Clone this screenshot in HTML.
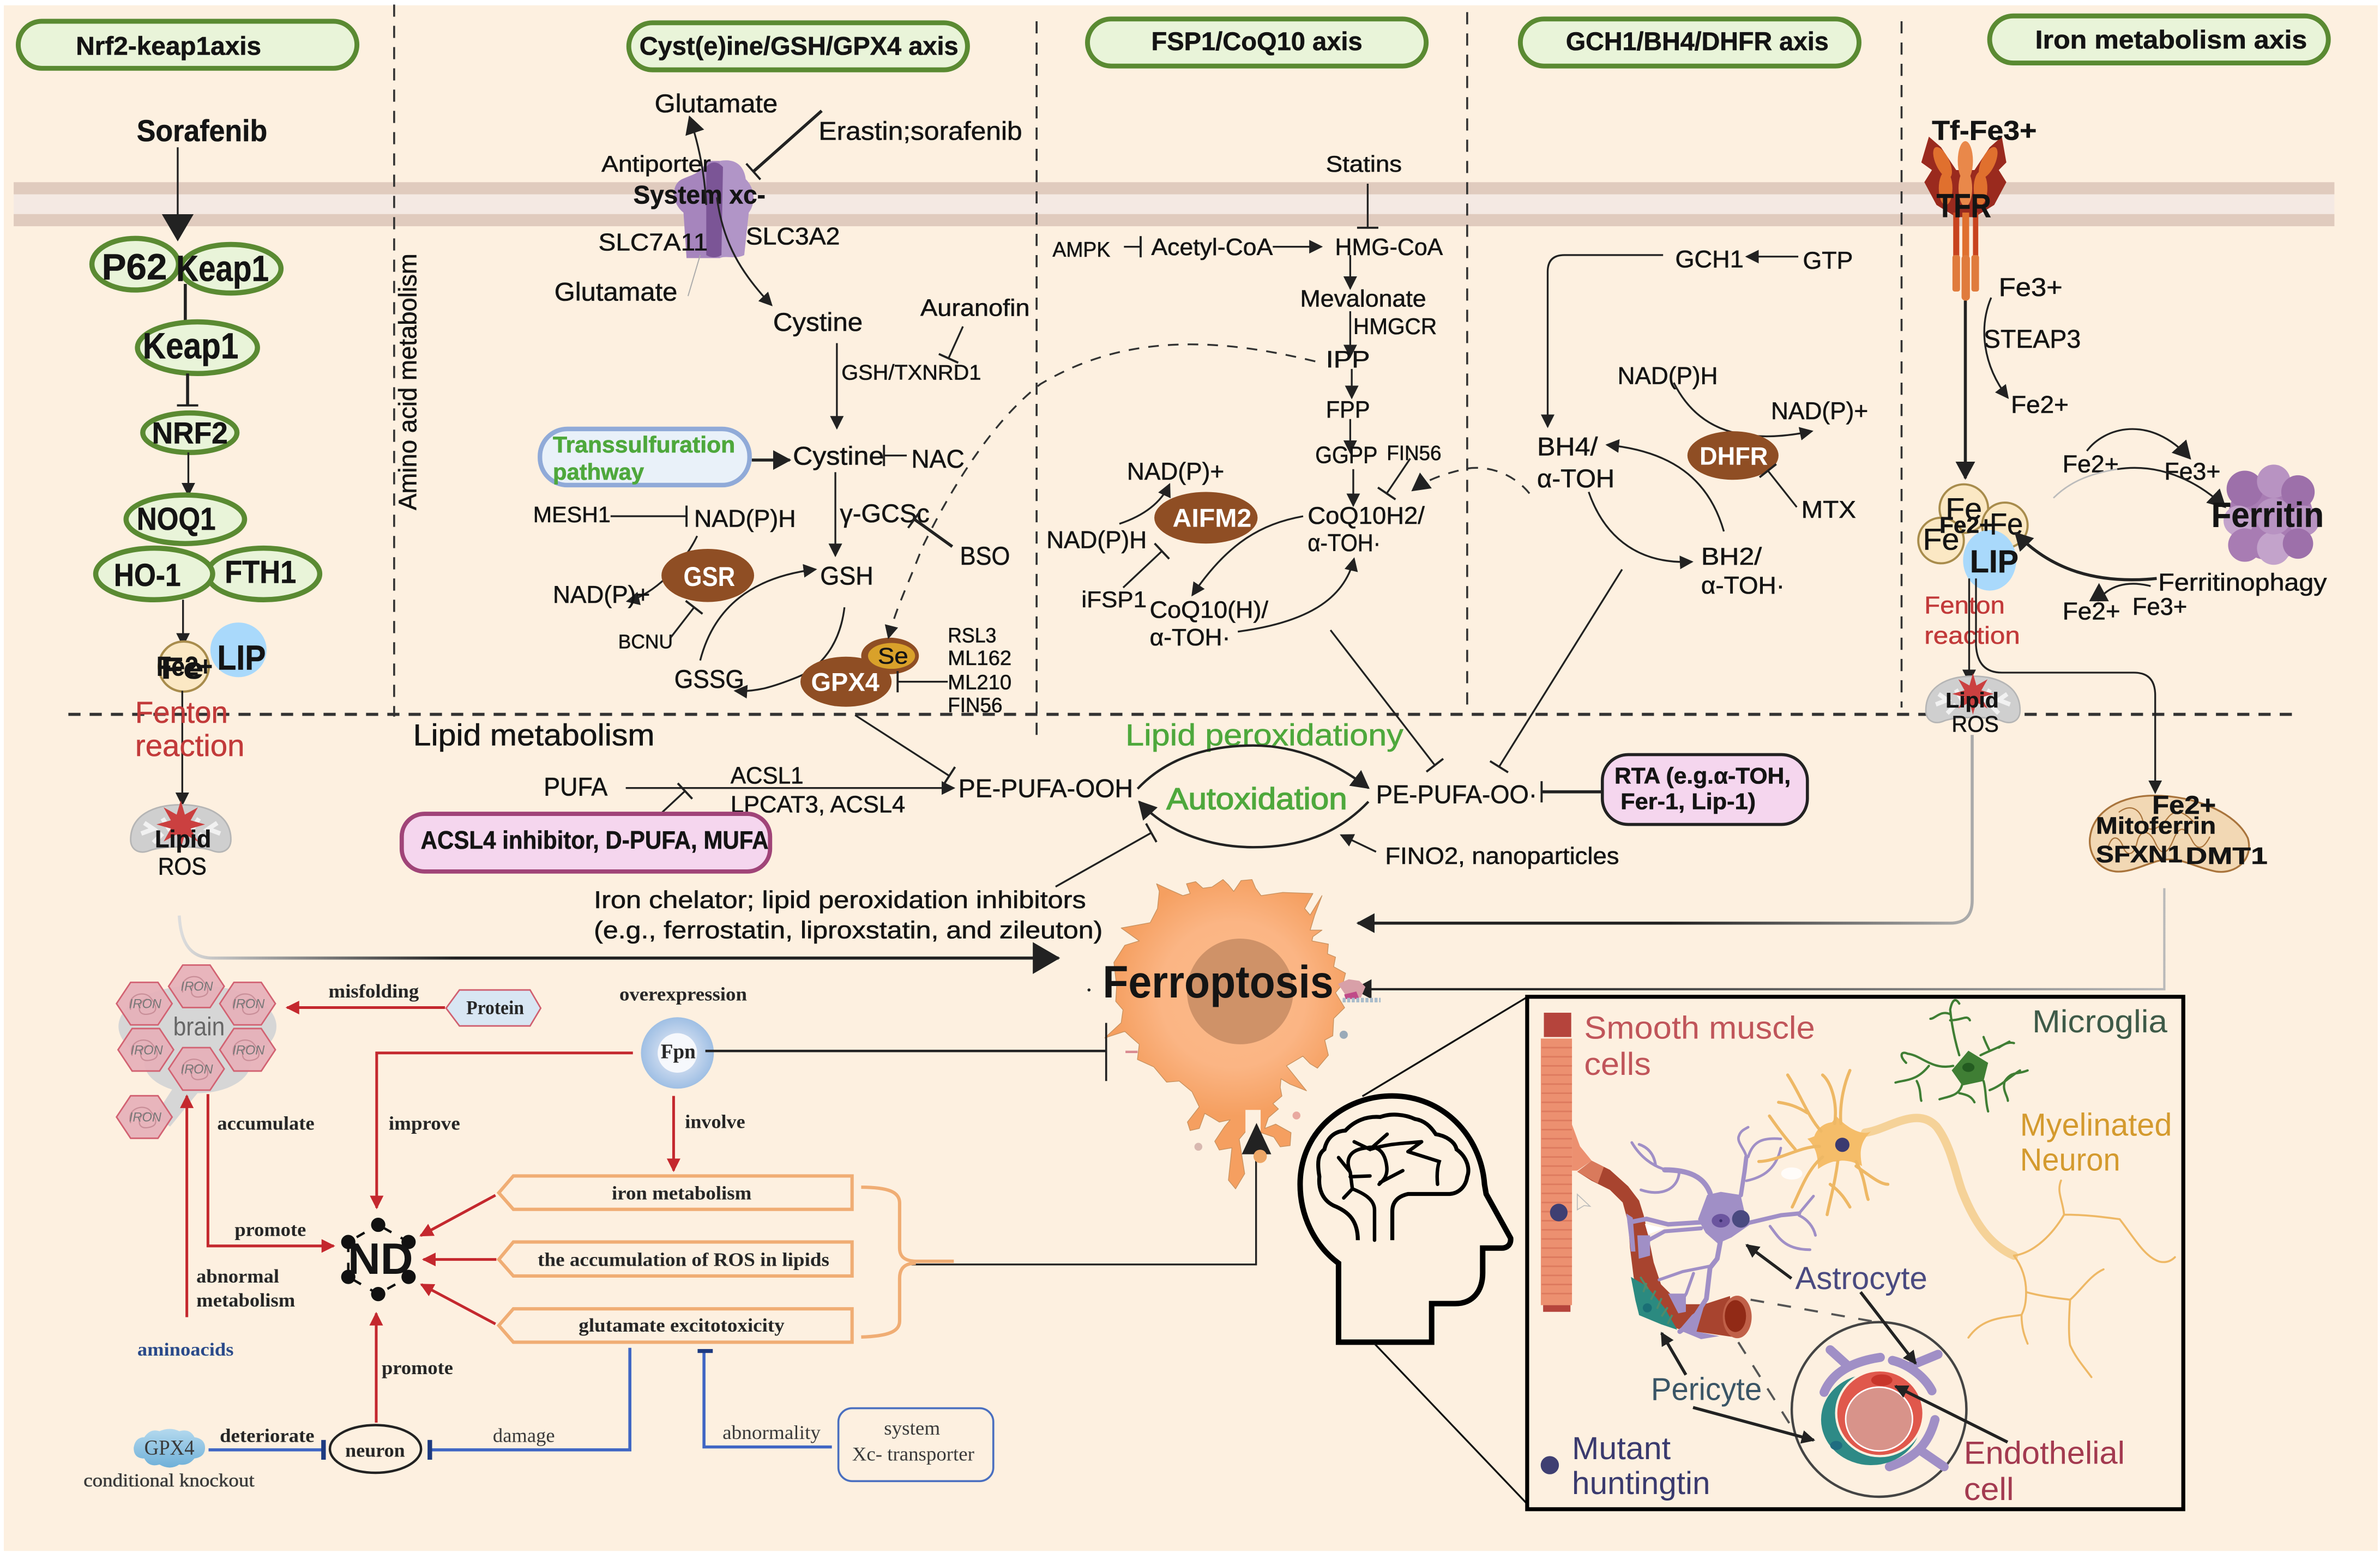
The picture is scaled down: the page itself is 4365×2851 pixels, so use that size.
<!DOCTYPE html>
<html lang="en">
<head>
<meta charset="utf-8">
<title>Ferroptosis pathways diagram</title>
<style>
html,body{margin:0;padding:0;background:#fff}
svg{display:block}
text{font-family:"Liberation Sans",sans-serif;fill:#141414;white-space:pre}
.t{stroke:#141414;stroke-width:.22}
.b{font-weight:700}
.w{font-weight:700;fill:#fff}
.g{fill:#4ea83c;stroke:#4ea83c;stroke-width:.25}
.r{fill:#c23a3a;stroke:#c23a3a;stroke-width:.2}
.sb{font-family:"Liberation Serif",serif;font-weight:700;fill:#262626}
.sr{font-family:"Liberation Serif",serif;fill:#3a3a3a}
.ir{font-style:italic;fill:#777;font-size:8.5px}
.l{fill:none;stroke:#222;stroke-width:1.2}
.l2{fill:none;stroke:#222;stroke-width:2}
.rd{fill:none;stroke:#c4282e;stroke-width:1.8}
.bl{fill:none;stroke:#3f66c4;stroke-width:2}
.or{fill:none;stroke:#f0ad74;stroke-width:2.2}
.hd{fill:#e9f4d9;stroke:#5a8a32;stroke-width:3.2}
.el{fill:#e9f4d9;stroke:#5a8a32;stroke-width:3.4}
.br{fill:#8f4e24}
.ast{fill:none;stroke:#a08fc6;stroke-linecap:round;stroke-linejoin:round}
.neu{fill:none;stroke:#eeb865;stroke-width:1.3;stroke-linecap:round}
.mic{fill:none;stroke:#3f7e34;stroke-width:1.5;stroke-linecap:round}
.ins{font-size:21px}
</style>
</head>
<body>
<svg xmlns="http://www.w3.org/2000/svg" width="4365" height="2851" viewBox="0 0 1567 1023.5">
<defs>
<marker id="a" markerUnits="userSpaceOnUse" markerWidth="10" markerHeight="10" refX="8" refY="4.5" orient="auto"><path d="M0,0L9,4.5L0,9Z" fill="#222"/></marker>
<marker id="am" markerUnits="userSpaceOnUse" markerWidth="14" markerHeight="14" refX="11" refY="6.5" orient="auto"><path d="M0,0L12,6.5L0,13Z" fill="#222"/></marker>
<marker id="al" markerUnits="userSpaceOnUse" markerWidth="20" markerHeight="22" refX="17" refY="10.5" orient="auto"><path d="M0,0L18,10.5L0,21Z" fill="#222"/></marker>
<marker id="ar" markerUnits="userSpaceOnUse" markerWidth="10" markerHeight="10" refX="8" refY="4.5" orient="auto"><path d="M0,0L9,4.5L0,9Z" fill="#c4282e"/></marker>
<marker id="t" markerUnits="userSpaceOnUse" markerWidth="3" markerHeight="16" refX="1.5" refY="8" orient="auto"><rect x=".8" y="1" width="1.4" height="14" fill="#222"/></marker>
<marker id="tn" markerUnits="userSpaceOnUse" markerWidth="4" markerHeight="14" refX="2" refY="7" orient="auto"><rect x=".5" y=".5" width="3" height="13" fill="#1d3a80"/></marker>
<linearGradient id="f1" gradientUnits="userSpaceOnUse" x1="118" y1="0" x2="300" y2="0"><stop offset="0" stop-color="#ddd"/><stop offset="1" stop-color="#222"/></linearGradient>
<linearGradient id="f2" gradientUnits="userSpaceOnUse" x1="1290" y1="0" x2="1100" y2="0"><stop offset="0" stop-color="#aaa"/><stop offset="1" stop-color="#222"/></linearGradient>
<linearGradient id="f3" gradientUnits="userSpaceOnUse" x1="1430" y1="0" x2="1000" y2="0"><stop offset="0" stop-color="#bbb"/><stop offset="1" stop-color="#222"/></linearGradient>
<linearGradient id="gp" x1="0" y1="0" x2="0" y2="1"><stop offset="0" stop-color="#b4d9ee"/><stop offset="1" stop-color="#6fb0d8"/></linearGradient>
<radialGradient id="fp"><stop offset=".5" stop-color="#c8d8ee"/><stop offset="1" stop-color="#9fbfe4"/></radialGradient>
<radialGradient id="ce" gradientUnits="userSpaceOnUse" cx="812" cy="655" r="80"><stop offset="0" stop-color="#fab888"/><stop offset=".6" stop-color="#fbb584"/><stop offset="1" stop-color="#f59f60"/></radialGradient>
<polygon id="bang" points="16,0 6.5,2.7 11.3,11.3 2.7,6.5 0,16 -2.7,6.5 -11.3,11.3 -6.5,2.7 -16,0 -6.5,-2.7 -11.3,-11.3 -2.7,-6.5 0,-16 2.7,-6.5 11.3,-11.3 6.5,-2.7" fill="#cb4040"/>
<g id="hx"><polygon points="-18.3,0 -9,-14 9,-14 18.3,0 9,14 -9,14" fill="#e6b0b8" fill-opacity=".92" stroke="#d26272" stroke-width="1"/><path d="M-9,4C-12,-6 0,-9 4,-4S10,6 2,7S-4,-2 2,-3" fill="none" stroke="#c88e98" stroke-width=".8"/></g>
<g id="mito"><path d="M-33,6C-33,-10 -18,-17 0,-17S33,-10 33,6C33,13 27,16 20,13C12,10 -12,10 -20,13C-27,16 -33,13 -33,6Z" fill="#cfcfcf" stroke="#b5b5b5"/><path d="M-26,2l8,-3l-6,-4M-12,-8l5,8M26,2l-8,-3l6,-4M12,-8l-5,8M-18,8l6,-6M18,8l-6,-6" fill="none" stroke="#f1f1f1" stroke-width="3"/></g>
</defs>

<rect width="1567" height="1023.5" fill="#fff"/>
<rect x="2.5" y="3.5" width="1563" height="1018" fill="#fdf0e0"/>

<!-- membrane -->
<rect x="9" y="120" width="1528" height="8" fill="#e0cbbe"/>
<rect x="9" y="128" width="1528" height="13" fill="#f4e9e3"/>
<rect x="9" y="141" width="1528" height="8" fill="#e0cbbe"/>

<!-- dashed separators -->
<g fill="none" stroke="#333" stroke-width="1.3" stroke-dasharray="8 6">
<path d="M259.5,3V472"/><path d="M682.5,14V490"/><path d="M966,8V470"/><path d="M1252,14V466"/>
</g>
<path d="M45,470.5H1510" fill="none" stroke="#333" stroke-width="2" stroke-dasharray="8 6"/>

<!-- headers -->
<rect class="hd" x="12" y="14" width="223" height="31" rx="15.5"/>
<rect class="hd" x="414" y="15" width="223" height="31" rx="15.5"/>
<rect class="hd" x="716" y="12.5" width="223" height="31" rx="15.5"/>
<rect class="hd" x="1001" y="12.5" width="223" height="31" rx="15.5"/>
<rect class="hd" x="1310" y="10.5" width="223" height="31" rx="15.5"/>
<text class="t b" x="50" y="36" font-size="17" textLength="122" lengthAdjust="spacingAndGlyphs">Nrf2-keap1axis</text>
<text class="t b" x="421" y="36" font-size="17" textLength="210" lengthAdjust="spacingAndGlyphs">Cyst(e)ine/GSH/GPX4 axis</text>
<text class="t b" x="758" y="33" font-size="17" textLength="139" lengthAdjust="spacingAndGlyphs">FSP1/CoQ10 axis</text>
<text class="t b" x="1031" y="33" font-size="17" textLength="173" lengthAdjust="spacingAndGlyphs">GCH1/BH4/DHFR axis</text>
<text class="t b" x="1340" y="32" font-size="17" textLength="179" lengthAdjust="spacingAndGlyphs">Iron metabolism axis</text>

<!-- Nrf2 column -->
<text class="t b" x="90" y="93" font-size="20" textLength="86" lengthAdjust="spacingAndGlyphs">Sorafenib</text>
<path class="l" d="M117,97V158" marker-end="url(#al)"/>
<ellipse class="el" cx="152" cy="177" rx="33" ry="16"/>
<ellipse class="el" cx="89" cy="174" rx="28.5" ry="17"/>
<text class="t b" x="67" y="184" font-size="24" textLength="43" lengthAdjust="spacingAndGlyphs">P62</text>
<text class="t b" x="116" y="185" font-size="24" textLength="61" lengthAdjust="spacingAndGlyphs">Keap1</text>
<path class="l2" d="M122,187V212"/>
<ellipse class="el" cx="130" cy="229" rx="39.5" ry="17"/>
<text class="t b" x="94" y="236" font-size="24" textLength="63" lengthAdjust="spacingAndGlyphs">Keap1</text>
<path class="l2" d="M123.5,246V267" marker-end="url(#t)"/>
<ellipse class="el" cx="125" cy="285" rx="31" ry="13"/>
<text class="t b" x="100" y="292" font-size="20" textLength="50" lengthAdjust="spacingAndGlyphs">NRF2</text>
<path class="l" d="M124,298V326" marker-end="url(#a)"/>
<ellipse class="el" cx="122" cy="342" rx="39" ry="16"/>
<text class="t b" x="90" y="349" font-size="21" textLength="52" lengthAdjust="spacingAndGlyphs">NOQ1</text>
<ellipse class="el" cx="173.5" cy="378" rx="37" ry="17"/>
<ellipse class="el" cx="101.5" cy="378" rx="38.5" ry="17"/>
<text class="t b" x="75" y="386" font-size="21" textLength="44" lengthAdjust="spacingAndGlyphs">HO-1</text>
<text class="t b" x="148" y="384" font-size="21" textLength="47" lengthAdjust="spacingAndGlyphs">FTH1</text>
<path class="l" d="M120.5,395V425" marker-end="url(#a)"/>
<ellipse cx="157" cy="428" rx="18.5" ry="18" fill="#a9d9fb"/>
<circle cx="121" cy="439" r="16.5" fill="#fbe8c4" stroke="#a88c4c" stroke-width="1.5"/>
<text class="t b" x="106" y="447" font-size="20" textLength="28" lengthAdjust="spacingAndGlyphs">Fe</text>
<text class="t b" x="103" y="445" font-size="18" textLength="37" lengthAdjust="spacingAndGlyphs">Fe2+</text>
<text class="t b" x="143" y="441" font-size="23" textLength="32" lengthAdjust="spacingAndGlyphs">LIP</text>
<path class="l" d="M120,455V530" marker-end="url(#a)"/>
<text class="r" x="89" y="476" font-size="20" textLength="61" lengthAdjust="spacingAndGlyphs">Fenton</text>
<text class="r" x="89" y="498" font-size="20" textLength="72" lengthAdjust="spacingAndGlyphs">reaction</text>
<use href="#mito" transform="translate(119,547)"/>
<use href="#bang" transform="translate(119,543)"/>
<text class="t b" x="102" y="558" font-size="16" textLength="37" lengthAdjust="spacingAndGlyphs">Lipid</text>
<text class="t" x="104" y="576" font-size="16" textLength="32" lengthAdjust="spacingAndGlyphs">ROS</text>
<path d="M118,603C119,622 126,631 140,631H697" fill="none" stroke="url(#f1)" stroke-width="2" marker-end="url(#al)"/>

<!-- Cystine axis -->
<path d="M452,170L450,140C443,135 441,122 449,118C456,115 462,114 465,106L474,106V170Z" fill="#a685bd"/>
<path d="M474,106C485,104 490,110 491,118C498,125 497,135 493,140L490,168C484,171 478,168 474,170Z" fill="#b195c7"/>
<path d="M465,110Q470,104 476,110L475,168Q470,171 465,168Z" fill="#7b5596"/>
<circle cx="495" cy="116" r="3" fill="#fdf0e0"/>
<text class="t" x="431" y="74" font-size="17" textLength="81" lengthAdjust="spacingAndGlyphs">Glutamate</text>
<text class="t" x="539" y="92" font-size="17" textLength="134" lengthAdjust="spacingAndGlyphs">Erastin;sorafenib</text>
<text class="t" x="396" y="113" font-size="15" textLength="72" lengthAdjust="spacingAndGlyphs">Antiporter</text>
<text class="t b" x="417" y="134" font-size="17" textLength="87" lengthAdjust="spacingAndGlyphs">System xc-</text>
<text class="t" x="394" y="165" font-size="16" textLength="72" lengthAdjust="spacingAndGlyphs">SLC7A11</text>
<text class="t" x="491" y="161" font-size="16" textLength="62" lengthAdjust="spacingAndGlyphs">SLC3A2</text>
<text class="t" x="365" y="198" font-size="17" textLength="81" lengthAdjust="spacingAndGlyphs">Glutamate</text>
<text class="t" x="509" y="218" font-size="17" textLength="59" lengthAdjust="spacingAndGlyphs">Cystine</text>
<path class="l" d="M465,135C464,115 460,95 454,77" marker-end="url(#am)"/>
<path d="M453,195L461,168" fill="none" stroke="#aaa" stroke-width=".7"/>
<path class="l" d="M472,130C476,160 488,180 508,201" marker-end="url(#a)"/>
<path class="l2" d="M541,73L496,113" marker-end="url(#t)"/>
<text class="t" x="606" y="208" font-size="15.5" textLength="72" lengthAdjust="spacingAndGlyphs">Auranofin</text>
<path class="l" d="M634,215L624.5,236" marker-end="url(#t)"/>
<text class="t" x="554" y="250" font-size="14" textLength="92" lengthAdjust="spacingAndGlyphs">GSH/TXNRD1</text>
<path class="l" d="M551,226V282" marker-end="url(#a)"/>
<rect x="355.5" y="282.5" width="138" height="37" rx="18" fill="#e9f1f9" stroke="#90aad8" stroke-width="3"/>
<text class="g b" x="364" y="298" font-size="15" textLength="120" lengthAdjust="spacingAndGlyphs">Transsulfuration</text>
<text class="g b" x="364" y="316" font-size="15" textLength="60" lengthAdjust="spacingAndGlyphs">pathway</text>
<path class="l2" d="M495,303H520" marker-end="url(#am)"/>
<text class="t" x="522" y="306" font-size="17" textLength="60" lengthAdjust="spacingAndGlyphs">Cystine</text>
<path class="l" d="M597,300H582" marker-end="url(#t)"/>
<text class="t" x="600" y="308" font-size="17" textLength="35" lengthAdjust="spacingAndGlyphs">NAC</text>
<path class="l" d="M550,311V366" marker-end="url(#a)"/>
<text class="t" x="553" y="344" font-size="17" textLength="59" lengthAdjust="spacingAndGlyphs">γ-GCSc</text>
<path class="l2" d="M627,360L602,342" marker-end="url(#t)"/>
<text class="t" x="632" y="372" font-size="17" textLength="33" lengthAdjust="spacingAndGlyphs">BSO</text>
<text class="t" x="540" y="385" font-size="17" textLength="35" lengthAdjust="spacingAndGlyphs">GSH</text>
<text class="t" x="351" y="344" font-size="14.5" textLength="51" lengthAdjust="spacingAndGlyphs">MESH1</text>
<path class="l" d="M402,340H452" marker-end="url(#t)"/>
<text class="t" x="457" y="347" font-size="16" textLength="67" lengthAdjust="spacingAndGlyphs">NAD(P)H</text>
<path class="l" d="M459,353C450,372 430,392 413,396" marker-end="url(#a)"/>
<ellipse class="br" cx="466" cy="379" rx="30.5" ry="17.5"/>
<text class="w" x="450" y="386" font-size="18" textLength="34" lengthAdjust="spacingAndGlyphs">GSR</text>
<text class="t" x="364" y="397" font-size="16" textLength="64" lengthAdjust="spacingAndGlyphs">NAD(P)+</text>
<text class="t" x="407" y="427" font-size="13" textLength="36" lengthAdjust="spacingAndGlyphs">BCNU</text>
<path class="l" d="M441.5,420L457,400" marker-end="url(#t)"/>
<path class="l" d="M461,435C470,400 495,380 537,375" marker-end="url(#a)"/>
<path class="l" d="M556,400C553,425 540,440 525,446C510,452 498,456 484,455" marker-end="url(#a)"/>
<text class="t" x="444" y="453" font-size="17" textLength="46" lengthAdjust="spacingAndGlyphs">GSSG</text>
<ellipse class="br" cx="557" cy="449" rx="30" ry="16.5"/>
<ellipse class="br" cx="586" cy="432" rx="19" ry="12"/>
<ellipse cx="587" cy="432" rx="15.5" ry="8.5" fill="#d9a12a"/>
<text class="t" x="578" y="437" font-size="15" textLength="20" lengthAdjust="spacingAndGlyphs">Se</text>
<text class="w" x="534" y="455" font-size="17" textLength="45" lengthAdjust="spacingAndGlyphs">GPX4</text>
<path d="M866,238C800,222 740,220 685,253C650,280 622,330 607,361C598,385 590,400 585,420" fill="none" stroke="#333" stroke-width="1.2" stroke-dasharray="7 6" marker-end="url(#a)"/>
<text class="t" x="624" y="423" font-size="13.5" textLength="32" lengthAdjust="spacingAndGlyphs">RSL3</text>
<text class="t" x="624" y="438" font-size="13.5" textLength="42" lengthAdjust="spacingAndGlyphs">ML162</text>
<text class="t" x="624" y="454" font-size="13.5" textLength="42" lengthAdjust="spacingAndGlyphs">ML210</text>
<text class="t" x="624" y="469" font-size="13.5" textLength="36" lengthAdjust="spacingAndGlyphs">FIN56</text>
<path class="l" d="M624,449H591" marker-end="url(#t)"/>
<path class="l" d="M563,471L625,511" marker-end="url(#t)"/>

<!-- FSP1 axis -->
<text class="t" x="873" y="113" font-size="15" textLength="50" lengthAdjust="spacingAndGlyphs">Statins</text>
<path class="l" d="M900.5,121V150" marker-end="url(#t)"/>
<text class="t" x="693" y="169" font-size="14" textLength="38" lengthAdjust="spacingAndGlyphs">AMPK</text>
<path class="l" d="M740,162.5H751" marker-end="url(#t)"/>
<text class="t" x="758" y="168" font-size="15.5" textLength="80" lengthAdjust="spacingAndGlyphs">Acetyl-CoA</text>
<path class="l" d="M838,162.5H870" marker-end="url(#a)"/>
<text class="t" x="879" y="168" font-size="15.5" textLength="71" lengthAdjust="spacingAndGlyphs">HMG-CoA</text>
<path class="l" d="M889,168V190" marker-end="url(#a)"/>
<text class="t" x="856" y="202" font-size="15.5" textLength="83" lengthAdjust="spacingAndGlyphs">Mevalonate</text>
<text class="t" x="891" y="220" font-size="15" textLength="55" lengthAdjust="spacingAndGlyphs">HMGCR</text>
<path class="l" d="M889,205V235" marker-end="url(#a)"/>
<text class="t" x="873" y="242" font-size="15.5" textLength="29" lengthAdjust="spacingAndGlyphs">IPP</text>
<path class="l" d="M890,243V262" marker-end="url(#a)"/>
<text class="t" x="873" y="275" font-size="15.5" textLength="29" lengthAdjust="spacingAndGlyphs">FPP</text>
<path class="l" d="M889,276V298" marker-end="url(#a)"/>
<text class="t" x="866" y="305" font-size="15.5" textLength="41" lengthAdjust="spacingAndGlyphs">GGPP</text>
<text class="t" x="913" y="303" font-size="13.5" textLength="36" lengthAdjust="spacingAndGlyphs">FIN56</text>
<path class="l" d="M891,309V333" marker-end="url(#a)"/>
<path class="l" d="M928.5,302L913,325" marker-end="url(#t)"/>
<path d="M1007,325C995,310 975,305 960,310C948,313 938,317 930,323" fill="none" stroke="#333" stroke-width="1.2" stroke-dasharray="7 6" marker-end="url(#am)"/>
<text class="t" x="861" y="345" font-size="16" textLength="77" lengthAdjust="spacingAndGlyphs">CoQ10H2/</text>
<text class="t" x="861" y="363" font-size="16" textLength="48" lengthAdjust="spacingAndGlyphs">α-TOH·</text>
<text class="t" x="742" y="316" font-size="16" textLength="64" lengthAdjust="spacingAndGlyphs">NAD(P)+</text>
<text class="t" x="689" y="361" font-size="16" textLength="66" lengthAdjust="spacingAndGlyphs">NAD(P)H</text>
<ellipse class="br" cx="794" cy="341" rx="34" ry="17"/>
<text class="w" x="772" y="347" font-size="17" textLength="52" lengthAdjust="spacingAndGlyphs">AIFM2</text>
<path class="l" d="M737,345C752,340 764,332 770,319" marker-end="url(#a)"/>
<text class="t" x="712" y="400" font-size="15" textLength="43" lengthAdjust="spacingAndGlyphs">iFSP1</text>
<path class="l" d="M739.5,387L765,363" marker-end="url(#t)"/>
<text class="t" x="757" y="407" font-size="15.5" textLength="78" lengthAdjust="spacingAndGlyphs">CoQ10(H)/</text>
<text class="t" x="757" y="425" font-size="15.5" textLength="53" lengthAdjust="spacingAndGlyphs">α-TOH·</text>
<path class="l" d="M858,340C830,345 808,358 785,392" marker-end="url(#a)"/>
<path class="l" d="M815,416C860,410 885,395 891.5,368" marker-end="url(#a)"/>

<!-- GCH1 axis -->
<text class="t" x="1103" y="176" font-size="16" textLength="45" lengthAdjust="spacingAndGlyphs">GCH1</text>
<text class="t" x="1187" y="177" font-size="16" textLength="33" lengthAdjust="spacingAndGlyphs">GTP</text>
<path class="l" d="M1184,169H1150" marker-end="url(#a)"/>
<path class="l" d="M1095,168H1030Q1019,168 1019,179V281" marker-end="url(#a)"/>
<text class="t" x="1012" y="300" font-size="17" textLength="40" lengthAdjust="spacingAndGlyphs">BH4/</text>
<text class="t" x="1012" y="321" font-size="17" textLength="51" lengthAdjust="spacingAndGlyphs">α-TOH</text>
<text class="t" x="1065" y="253" font-size="16" textLength="66" lengthAdjust="spacingAndGlyphs">NAD(P)H</text>
<text class="t" x="1166" y="276" font-size="16" textLength="64" lengthAdjust="spacingAndGlyphs">NAD(P)+</text>
<path class="l" d="M1102,252C1115,278 1140,295 1193,284" marker-end="url(#a)"/>
<ellipse class="br" cx="1141" cy="300" rx="30" ry="16"/>
<text class="w" x="1119" y="306" font-size="16.5" textLength="45" lengthAdjust="spacingAndGlyphs">DHFR</text>
<text class="t" x="1186" y="341" font-size="16" textLength="36" lengthAdjust="spacingAndGlyphs">MTX</text>
<path class="l" d="M1183,334L1164,310" marker-end="url(#t)"/>
<path class="l" d="M1135,350C1125,315 1100,297 1058,293" marker-end="url(#a)"/>
<path class="l" d="M1046,324C1055,350 1075,372 1114,370" marker-end="url(#a)"/>
<text class="t" x="1120" y="372" font-size="16" textLength="40" lengthAdjust="spacingAndGlyphs">BH2/</text>
<text class="t" x="1120" y="391" font-size="16" textLength="55" lengthAdjust="spacingAndGlyphs">α-TOH·</text>

<!-- Iron axis -->
<path d="M1270,90L1278,97L1288,112H1300L1310,97L1318,90L1321,107L1316,112L1321,120L1313,135L1300,143H1288L1275,135L1267,120L1272,112L1265,107Z" fill="#9a2a1e"/>
<g fill="#e0702e"><ellipse cx="1279" cy="107" rx="4.5" ry="11" transform="rotate(-25 1279 107)"/><ellipse cx="1294" cy="106" rx="5" ry="13" fill="#e9884a"/><ellipse cx="1309" cy="107" rx="4.5" ry="11" transform="rotate(25 1309 107)"/><ellipse cx="1281" cy="124" rx="4.5" ry="11"/><ellipse cx="1294" cy="124" rx="4.5" ry="12" fill="#e9884a"/><ellipse cx="1304" cy="124" rx="4.5" ry="11"/></g>
<g fill="#c8431e"><rect x="1286" y="140" width="4" height="30"/><rect x="1292" y="140" width="4.5" height="30" fill="#e0702e"/><rect x="1299" y="140" width="3.5" height="30"/></g>
<g fill="#e07b3c"><rect x="1285.5" y="168" width="5" height="24" rx="1.5"/><rect x="1291.5" y="168" width="5.5" height="30" rx="2.5"/><rect x="1298" y="168" width="5" height="24" rx="1.5"/></g>
<text class="t b" x="1272" y="92" font-size="18" textLength="69" lengthAdjust="spacingAndGlyphs">Tf-Fe3+</text>
<text class="t b" x="1275" y="143" font-size="22" textLength="36" lengthAdjust="spacingAndGlyphs">TFR</text>
<path class="l2" d="M1294,198V315" marker-end="url(#am)"/>
<text class="t" x="1316" y="195" font-size="17" textLength="42" lengthAdjust="spacingAndGlyphs">Fe3+</text>
<text class="t" x="1306" y="229" font-size="17" textLength="64" lengthAdjust="spacingAndGlyphs">STEAP3</text>
<text class="t" x="1324" y="272" font-size="16" textLength="38" lengthAdjust="spacingAndGlyphs">Fe2+</text>
<path class="l" d="M1311,196C1303,215 1305,240 1322,262" marker-end="url(#a)"/>
<text class="t" x="1358" y="311" font-size="16" textLength="37" lengthAdjust="spacingAndGlyphs">Fe2+</text>
<text class="t" x="1425" y="316" font-size="16" textLength="37" lengthAdjust="spacingAndGlyphs">Fe3+</text>
<path class="l" d="M1374,297C1385,282 1415,272 1442,302" marker-end="url(#am)"/>
<path class="l" d="M1394,309C1420,305 1445,315 1465,334" marker-end="url(#am)"/>
<path d="M1352,328C1362,318 1375,312 1394,309" fill="none" stroke="#bbb" stroke-width="1"/>
<!-- ferritin -->
<g>
<circle cx="1495" cy="341" r="28" fill="#a87cb3"/>
<circle cx="1478" cy="322" r="12" fill="#9d70aa"/><circle cx="1497" cy="317" r="11" fill="#b893c2"/><circle cx="1513" cy="324" r="11" fill="#9d70aa"/>
<circle cx="1474" cy="343" r="10" fill="#c3a3cb"/><circle cx="1517" cy="343" r="10" fill="#b893c2"/>
<circle cx="1478" cy="359" r="11" fill="#a87cb3"/><circle cx="1497" cy="361" r="11" fill="#c3a3cb"/><circle cx="1513" cy="358" r="10" fill="#9d70aa"/>
<circle cx="1497" cy="340" r="12" fill="#b893c2"/>
</g>
<text class="t b" x="1456" y="347" font-size="23" textLength="74" lengthAdjust="spacingAndGlyphs">Ferritin</text>
<!-- LIP cluster -->
<g fill="#fbe8c4" stroke="#a88c4c" stroke-width="1.4">
<ellipse cx="1293" cy="335" rx="16" ry="16"/>
<ellipse cx="1320" cy="346" rx="15" ry="15"/>
<ellipse cx="1278" cy="356" rx="15" ry="15"/>
</g>
<ellipse cx="1310" cy="369" rx="17.5" ry="20" fill="#a9d9fb"/>
<text class="t" x="1281" y="342" font-size="20" textLength="24" lengthAdjust="spacingAndGlyphs">Fe</text>
<text class="t" x="1310" y="352" font-size="20" textLength="22" lengthAdjust="spacingAndGlyphs">Fe</text>
<text class="t" x="1266" y="362" font-size="20" textLength="24" lengthAdjust="spacingAndGlyphs">Fe</text>
<text class="t b" x="1277" y="351" font-size="15" textLength="35" lengthAdjust="spacingAndGlyphs">Fe2+</text>
<text class="t b" x="1297" y="377" font-size="21" textLength="32" lengthAdjust="spacingAndGlyphs">LIP</text>
<path class="l2" d="M1420,381C1380,385 1350,375 1327,351" marker-end="url(#am)"/>
<text class="t" x="1421" y="389" font-size="16" textLength="111" lengthAdjust="spacingAndGlyphs">Ferritinophagy</text>
<path class="l" d="M1416,386C1400,382 1388,386 1381,396"/>
<path d="M1382,384l6.5,12h-13Z" fill="#222"/>
<text class="t" x="1358" y="408" font-size="16" textLength="38" lengthAdjust="spacingAndGlyphs">Fe2+</text>
<text class="t" x="1404" y="405" font-size="16" textLength="36" lengthAdjust="spacingAndGlyphs">Fe3+</text>
<text class="r" x="1267" y="404" font-size="16" textLength="53" lengthAdjust="spacingAndGlyphs">Fenton</text>
<text class="r" x="1267" y="424" font-size="16" textLength="63" lengthAdjust="spacingAndGlyphs">reaction</text>
<path class="l" d="M1296.5,381V449" marker-end="url(#a)"/>
<path class="l" d="M1301,381V425Q1302,443 1318,443H1405Q1419,443 1419,458V522" marker-end="url(#a)"/>
<use href="#mito" transform="translate(1299,462) scale(.94,.98)"/>
<use href="#bang" transform="translate(1299,457) scale(.85)"/>
<text class="t b" x="1281" y="466" font-size="14" textLength="35" lengthAdjust="spacingAndGlyphs">Lipid</text>
<text class="t" x="1285" y="482" font-size="15" textLength="31" lengthAdjust="spacingAndGlyphs">ROS</text>
<path d="M1298.5,484V593Q1298.5,608 1284,608H894" fill="none" stroke="url(#f2)" stroke-width="2" marker-end="url(#am)"/>
<!-- Mitochondrion -->
<path d="M1376,552C1378,533 1398,524 1418,524C1445,524 1472,535 1480,552C1484,566 1472,576 1459,574C1445,571 1438,566 1428,566C1417,566 1405,575 1393,574C1382,573 1375,563 1376,552Z" fill="#f2d8b4" stroke="#a9743c" stroke-width="1.2"/>
<path d="M1388,558c3,-10 8,-6 10,0s7,6 9,-3s8,-9 12,0s8,8 12,-2s8,-8 12,0s8,6 12,-2M1395,535c8,-6 14,-2 16,6s10,6 16,-2s12,-3 18,3" fill="none" stroke="#a9743c" stroke-width=".8"/>
<text class="t b" x="1417" y="536" font-size="17" textLength="42" lengthAdjust="spacingAndGlyphs">Fe2+</text>
<text class="t b" x="1380" y="549" font-size="15.5" textLength="79" lengthAdjust="spacingAndGlyphs">Mitoferrin</text>
<text class="t b" x="1380" y="568" font-size="15.5" textLength="57" lengthAdjust="spacingAndGlyphs">SFXN1</text>
<text class="t b" x="1439" y="569" font-size="15.5" textLength="54" lengthAdjust="spacingAndGlyphs">DMT1</text>
<path d="M1425,585V651.5H892" fill="none" stroke="url(#f3)" stroke-width="1.5" marker-end="url(#am)"/>

<!-- Lipid metabolism -->
<text class="t" x="272" y="491" font-size="20" textLength="159" lengthAdjust="spacingAndGlyphs">Lipid metabolism</text>
<text class="t" x="358" y="524" font-size="17" textLength="42" lengthAdjust="spacingAndGlyphs">PUFA</text>
<path class="l" d="M412,519H628" marker-end="url(#a)"/>
<text class="t" x="481" y="516" font-size="15.5" textLength="48" lengthAdjust="spacingAndGlyphs">ACSL1</text>
<text class="t" x="481" y="535" font-size="15.5" textLength="115" lengthAdjust="spacingAndGlyphs">LPCAT3, ACSL4</text>
<path class="l" d="M436,535L451,521" marker-end="url(#t)"/>
<rect x="264.5" y="536" width="242.5" height="38" rx="15" fill="#f5d6ee" stroke="#a04478" stroke-width="2.8"/>
<text class="t b" x="277" y="559" font-size="16.5" textLength="229" lengthAdjust="spacingAndGlyphs">ACSL4 inhibitor, D-PUFA, MUFA</text>
<text class="t" x="631" y="525" font-size="17" textLength="115" lengthAdjust="spacingAndGlyphs">PE-PUFA-OOH</text>
<text class="g" x="741" y="491" font-size="20" textLength="183" lengthAdjust="spacingAndGlyphs">Lipid peroxidationy</text>
<text class="g" style="stroke-width:.5" x="768" y="533" font-size="20" textLength="119" lengthAdjust="spacingAndGlyphs">Autoxidation</text>
<path class="l" stroke-width="1.6" style="stroke-width:1.6" d="M749,519.5C770,497 800,491 825,491C855,491 880,503 901,519" marker-end="url(#am)"/>
<path class="l" style="stroke-width:1.6" d="M901,528C880,550 855,558 825,558C800,558 770,550 750,528" marker-end="url(#am)"/>
<text class="t" x="906" y="529" font-size="17" textLength="106" lengthAdjust="spacingAndGlyphs">PE-PUFA-OO·</text>
<path class="l2" d="M1055,521.5H1015" marker-end="url(#t)"/>
<rect x="1055" y="497" width="135" height="46" rx="17" fill="#f5d6ee" stroke="#222" stroke-width="2"/>
<text class="t b" x="1063" y="516" font-size="15" textLength="116" lengthAdjust="spacingAndGlyphs">RTA (e.g.α-TOH,</text>
<text class="t b" x="1067" y="533" font-size="15" textLength="89" lengthAdjust="spacingAndGlyphs">Fer-1, Lip-1)</text>
<path class="l" d="M876,415L944.7,504" marker-end="url(#t)"/>
<path class="l" d="M1068,375L987,505" marker-end="url(#t)"/>
<text class="t" x="912" y="569" font-size="15.5" textLength="154" lengthAdjust="spacingAndGlyphs">FINO2, nanoparticles</text>
<path class="l" d="M906,561L883,550" marker-end="url(#a)"/>
<text class="t" x="391" y="598" font-size="16" textLength="324" lengthAdjust="spacingAndGlyphs">Iron chelator; lipid peroxidation inhibitors</text>
<text class="t" x="391" y="618" font-size="16" textLength="335" lengthAdjust="spacingAndGlyphs">(e.g., ferrostatin, liproxstatin, and zileuton)</text>
<path class="l" d="M695,584L758,548.5" marker-end="url(#t)"/>

<!-- Ferroptosis cell -->
<polygon fill="url(#ce)" stroke="#c9925f" stroke-width=".5" stroke-linejoin="round" points="761.5,582.1 769.3,585.7 778.8,589.9 783.6,588.5 781.2,582.1 787.2,580.7 792,585 798,584.2 805.2,579.3 808.8,582.8 812.3,587.1 817.1,580 824.3,579.3 826.7,585 830.3,589.9 844.6,587.8 864.4,588.5 859,598.4 862.6,602.7 870.4,589.9 865.6,602.7 862.6,612.6 870.4,612.6 864.4,616.9 863.8,619.7 874.6,621.8 874,628.2 879.3,630.4 878.1,636.7 885.9,641 884.1,648.1 879.3,653.8 885.3,663.7 878.1,670.8 877.5,682.2 872.2,685 874.6,695 867.4,703.5 862.6,700.6 857.8,695.6 847,702 860.2,718.4 849.4,714.1 843.4,710.5 842.9,716.2 844,721.9 838.1,726.9 841.7,730.4 835.1,736.1 832.7,743.2 839.9,740.4 850,746 849.4,754.5 842.9,755.3 838.7,748.9 830.3,746 820.7,744.6 815.9,750.3 819.5,773 813.5,783 808.8,777.3 811.1,756 802.8,757.4 799.8,751.7 806.4,741.8 810,737.5 802.8,739 798,736.1 793.2,733.3 789.6,743.2 783.6,744.6 781.8,739 789.6,729 784.8,719 776.4,712 768.1,712.7 759.7,702.7 748.9,697.8 750.1,687.8 745.3,683.6 740.6,679.3 727.4,683.6 738.2,673.6 739.4,665.1 734.6,659.5 735.2,649.5 733.4,633.9 740.6,622.6 750.1,619.7 738.2,611.2 757.3,607.7 762.1,598.4 763.3,587"/>
<path d="M820,731H830V746H820Z" fill="#fdf0e0"/>
<ellipse cx="816.5" cy="653" rx="35" ry="34.8" fill="#cf9268"/>
<circle cx="717" cy="652" r="1" fill="#222"/>
<text class="b" x="726" y="657" font-size="30" textLength="152" lengthAdjust="spacingAndGlyphs">Ferroptosis</text>
<path d="M881,648l7,-3l7,1l4,4l-3,7l-9,0Z" fill="#d8a0a8"/><path d="M885,655l8,-2l2,5h-9Z" fill="#c04a88"/>
<path d="M884,658.7h25" stroke="#a9bccb" stroke-width="3" stroke-dasharray="2 1"/>
<circle cx="884.7" cy="681.5" r="2.7" fill="#9aaab8"/>
<circle cx="853.6" cy="734.7" r="2.6" fill="#e9a9a0"/><circle cx="789" cy="755.3" r="2.6" fill="#d8b8b0"/>
<path d="M741,692.8h8" stroke="#d98a90" stroke-width="1.6"/>
<path class="l" d="M600,832.8H827V755"/>
<path d="M827.3,739.6l9.7,20.6h-19.4Z" fill="#222"/>
<circle cx="829.7" cy="761.6" r="4.4" fill="#eda666"/>

<!-- Lower left network -->
<g fill="#d6d6d6"><ellipse cx="130" cy="676" rx="52" ry="27"/><ellipse cx="130" cy="700" rx="35" ry="20"/><path d="M115,715L130,720L112,742L102,735Z"/></g>
<use href="#hx" transform="translate(95,661)"/>
<use href="#hx" transform="translate(129.3,649.6)"/>
<use href="#hx" transform="translate(163,661)"/>
<use href="#hx" transform="translate(96,691.4)"/>
<use href="#hx" transform="translate(163,691.4)"/>
<use href="#hx" transform="translate(129.3,704)"/>
<use href="#hx" transform="translate(95,735.7)"/>
<text class="ir" x="85" y="664">IRON</text><text class="ir" x="119" y="652.5">IRON</text><text class="ir" x="153" y="664">IRON</text>
<text class="ir" x="86" y="694.5">IRON</text><text class="ir" x="153" y="694.5">IRON</text><text class="ir" x="119" y="707">IRON</text><text class="ir" x="85" y="738.7">IRON</text>
<text x="114" y="682" font-size="17" style="fill:#666" textLength="34" lengthAdjust="spacingAndGlyphs">brain</text>
<path class="rd" d="M293,663.6H189" marker-end="url(#ar)"/>
<text class="sb" x="216.3" y="657" font-size="12.5" textLength="59.5" lengthAdjust="spacingAndGlyphs">misfolding</text>
<polygon points="293.7,664 302.5,652 349,652 356,664 349,675.7 302.5,675.7" fill="#d8e6f3" stroke="#d06070" stroke-width="1"/>
<text class="sb" x="307" y="668" font-size="13" textLength="38" lengthAdjust="spacingAndGlyphs">Protein</text>
<text class="sb" x="407.8" y="659" font-size="12.5" textLength="84" lengthAdjust="spacingAndGlyphs">overexpression</text>
<ellipse cx="446" cy="693.5" rx="24" ry="23.5" fill="url(#fp)"/>
<ellipse cx="446" cy="693.5" rx="13" ry="13" fill="#f6f8fc"/>
<text class="sb" x="435" y="697" font-size="13.5" textLength="23" lengthAdjust="spacingAndGlyphs">Fpn</text>
<path class="rd" d="M416.7,693.5H248V795.5" marker-end="url(#ar)"/>
<text class="sb" x="255.9" y="744" font-size="12.5" textLength="47" lengthAdjust="spacingAndGlyphs">improve</text>
<path d="M464.4,692.2H728.3" fill="none" stroke="#222" stroke-width="1.6"/>
<path d="M728.3,673.7V712" stroke="#222" stroke-width="1.3"/>
<path class="rd" d="M443.5,721.8V771" marker-end="url(#ar)"/>
<text class="sb" x="451" y="743" font-size="12.5" textLength="39.6" lengthAdjust="spacingAndGlyphs">involve</text>
<polygon class="or" points="328.4,785.6 338,774.5 561,774.5 561,796.5 338,796.5"/>
<polygon class="or" points="328.4,829.5 338,818 561,818 561,840.4 338,840.4"/>
<polygon class="or" points="328.4,873 338,862 561,862 561,884 338,884"/>
<text class="sb" x="402.8" y="790" font-size="12.5" textLength="92" lengthAdjust="spacingAndGlyphs">iron metabolism</text>
<text class="sb" x="354" y="833.8" font-size="12.5" textLength="192" lengthAdjust="spacingAndGlyphs">the accumulation of ROS in lipids</text>
<text class="sb" x="381" y="877" font-size="12.5" textLength="135.5" lengthAdjust="spacingAndGlyphs">glutamate excitotoxicity</text>
<path class="or" d="M567,781.9C585,782 592,785 592.3,792V822C592.3,828 596,830.5 603,830.7H628M603,832C596,832 592.3,835 592.3,842V870C592.3,877 585,880 567,880.6"/>
<path class="rd" d="M326.2,787.2L277,813.8" marker-end="url(#ar)"/>
<path class="rd" d="M326.8,829.5H278.8" marker-end="url(#ar)"/>
<path class="rd" d="M326.2,872L277.4,846" marker-end="url(#ar)"/>
<g fill="#111"><circle cx="249" cy="806.7" r="4.7"/><circle cx="269" cy="818" r="4.7"/><circle cx="269" cy="841" r="4.7"/><circle cx="249" cy="852.3" r="4.7"/><circle cx="229.3" cy="841" r="4.7"/><circle cx="229.3" cy="818" r="4.7"/></g>
<path d="M249,806.7L269,818V841L249,852.3L229.3,841V818Z" fill="none" stroke="#111" stroke-width="1.6" stroke-dasharray="6 7" stroke-dashoffset="-4"/>
<text class="b" x="229" y="839" font-size="29" textLength="43" lengthAdjust="spacingAndGlyphs">ND</text>
<path class="rd" d="M136.9,720.6V820.6H219.7" marker-end="url(#ar)"/>
<text class="sb" x="143" y="744" font-size="12.5" textLength="64" lengthAdjust="spacingAndGlyphs">accumulate</text>
<text class="sb" x="154.5" y="814" font-size="12.5" textLength="47" lengthAdjust="spacingAndGlyphs">promote</text>
<path class="rd" d="M123,867.5V721.8" marker-end="url(#ar)"/>
<text class="sb" x="129.3" y="844.7" font-size="12.5" textLength="54.5" lengthAdjust="spacingAndGlyphs">abnormal</text>
<text class="sb" x="129.3" y="860.6" font-size="12.5" textLength="65" lengthAdjust="spacingAndGlyphs">metabolism</text>
<text class="sb" x="90.4" y="892.8" font-size="12" style="fill:#2a4a8a" textLength="63.4" lengthAdjust="spacingAndGlyphs">aminoacids</text>
<ellipse cx="247.2" cy="954.3" rx="30" ry="15.7" fill="none" stroke="#222" stroke-width="1.6"/>
<text class="sb" x="227.3" y="959.4" font-size="12.5" textLength="39.3" lengthAdjust="spacingAndGlyphs">neuron</text>
<path class="rd" d="M247.7,937V865" marker-end="url(#ar)"/>
<text class="sb" x="251.3" y="905" font-size="12.5" textLength="47" lengthAdjust="spacingAndGlyphs">promote</text>
<path d="M88,953.6q1,-7 7,-7q4,-6 10,-4q7,-3 13,0q7,-2 10,4q7,1 7,7q0,6 -7,7q-4,5 -10,4q-6,4 -13,0q-7,2 -10,-4q-7,0 -7,-7Z" fill="url(#gp)"/>
<text class="sr" x="95" y="958" font-size="14" textLength="33" lengthAdjust="spacingAndGlyphs">GPX4</text>
<text class="sr" x="55" y="979" font-size="12" stroke="#3a3a3a" stroke-width=".2" textLength="112.5" lengthAdjust="spacingAndGlyphs">conditional knockout</text>
<text class="sb" x="144.7" y="949.8" font-size="12.5" textLength="62.3" lengthAdjust="spacingAndGlyphs">deteriorate</text>
<path class="bl" d="M137.3,954.9H213" marker-end="url(#tn)"/>
<path class="bl" d="M414.7,887.7V954.9H283" marker-end="url(#tn)"/>
<text class="sr" x="324.5" y="949.8" font-size="13" textLength="40.8" lengthAdjust="spacingAndGlyphs">damage</text>
<path class="bl" d="M547.7,953H463.5V890"/>
<rect x="459.3" y="888.5" width="10" height="2.6" fill="#1d3a80"/>
<text class="sr" x="475.7" y="947.8" font-size="13" textLength="64.6" lengthAdjust="spacingAndGlyphs">abnormality</text>
<rect x="552" y="927.5" width="102" height="48" rx="9" fill="none" stroke="#4a6fc0" stroke-width="1.3"/>
<text class="sr" x="582" y="944.8" font-size="13" textLength="37" lengthAdjust="spacingAndGlyphs">system</text>
<text class="sr" x="561" y="962" font-size="13" textLength="80.5" lengthAdjust="spacingAndGlyphs">Xc- transporter</text>

<!-- Head icon -->
<path d="M881.3,884V832C865,820 856,800 856,780C856,745 885,721.8 916.7,721.8C950,721.8 975,748 977.4,780L978.5,786.4L994.6,815.5C995,820 992,822 989,822H976.2V838.3C976.2,850 970,858.6 958,858.6H942.6V884Z" fill="none" stroke="#000" stroke-width="3.6" stroke-linejoin="miter"/>
<path d="M894,816.8C894,804 888,798 878,794C870,790 868,782 868.7,775C867,765 868,760 872,757C874,748 880,745 885.8,744.6C892,738 900,735 908.7,735.7C916,733 925,734 931.6,737C938,738 942,742 945.3,747C952,748 958,752 959,757C966,762 968,770 966,775C965,782 960,786 954.5,786.4H927C920,788 916.7,792 916.7,797.8V816.8" fill="none" stroke="#000" stroke-width="2.6"/>
<path d="M905,816.8V797C905,790 898,786 890.4,783L884.7,789M890.4,783L889,772L881.3,762.4M889,772C885,762 890,757 900,756C908,754 912,760 913,768C914,775 910,778 908,780M891.6,752L902,757L913.3,747M902,757C915,753 925,753 936,752M927,758.5L947.6,765C946,770 946,775 946.5,780M927,758.5L936,752M889,775L902,774.5M923.6,771L908.7,778.8" fill="none" stroke="#000" stroke-width="2.3" stroke-linecap="round"/>
<path d="M1005,657L897,722M905,885L1005,990" fill="none" stroke="#111" stroke-width="1.2"/>

<!-- Inset -->
<rect x="1005.5" y="656.5" width="432" height="337.5" fill="#fdf0e0" stroke="#000" stroke-width="2.6"/>
<rect x="1016.5" y="667" width="18" height="16" fill="#b5443c"/>
<rect x="1016" y="859.6" width="18" height="4.4" fill="#b5443c"/>
<rect x="1014.5" y="684" width="20.5" height="175.6" fill="#ec9070"/>
<polygon points="1035,740.6 1040.3,755 1048,764.5 1038.5,771 1035,771" fill="#ec9070"/>
<path d="M1015,690h20M1015,696h20M1015,702h20M1015,708h20M1015,714h20M1015,720h20M1015,726h20M1015,732h20M1015,738h20M1015,744h20M1015,750h20M1015,756h20M1015,762h20M1015,768h20M1015,774h20M1015,780h20M1015,786h20M1015,792h20M1015,798h20M1015,804h20M1015,810h20M1015,816h20M1015,822h20M1015,828h20M1015,834h20M1015,840h20M1015,846h20M1015,852h20" stroke="#dd7a5e" stroke-width="1"/>
<polygon points="1048,764.5 1060,770.5 1072,781.3 1079.2,790.8 1082.2,800.4 1085.2,813.6 1088.8,831.5 1093.6,845.9 1103.1,855.4 1110.3,859 1122.3,859 1139,853.6 1141.4,880.6 1116.3,877 1106.7,875.8 1096,872.2 1080.4,861.4 1075.6,841 1073.2,822 1072,805.2 1068.4,792 1060,783.7 1048,777.7 1038.5,771.7" fill="#a8442f"/>
<path d="M1048,764.5L1056,768.5L1052,779.5L1038.5,771.7Z" fill="#d97a5c"/>
<!-- astrocyte -->
<path d="M1124,787L1133,785L1146,787L1149,800L1153,806L1140,815L1131,819L1123,812L1118,803Z" fill="#a08fc6"/>
<path class="ast" stroke-width="3.4" d="M1126,786C1122,775 1112,770.5 1096,770.5"/>
<path class="ast" stroke-width="1.8" d="M1097,770.5C1088,768 1080,762 1074.4,752.5M1090,767C1089,761 1086,756 1079.2,753.7M1105.5,773C1104,784 1093,788 1080.4,783.7"/>
<path class="ast" stroke-width="3" d="M1120,805L1098.3,806.4L1084,802.8L1073,805"/>
<path class="ast" stroke-width="2.6" d="M1120,809L1096,811L1085,817"/>
<path d="M1070.8,799.2L1075,802L1076.8,824.3H1073.8ZM1078,813.6H1086.4V827L1079,829Z" fill="#a08fc6"/>
<path d="M1083,806L1096,809L1085,813Z" fill="#fff"/>
<path class="ast" stroke-width="3.2" d="M1133,816L1130.6,829L1125.9,835L1123.5,855.4L1112.7,872.2L1106,877"/>
<path d="M1105.5,876L1114,866L1122,860L1117,877L1132,880L1120,882Z" fill="#a08fc6"/>
<path class="ast" stroke-width="2" d="M1125.9,833.9L1107.9,837.5L1092.4,842.9M1115,838.7L1110.3,851.9L1106.7,857.8"/>
<path d="M1098.3,852L1110,852L1110,864L1105,865Z" fill="#a08fc6"/>
<path class="ast" stroke-width="2.8" d="M1146.2,787.2L1148.6,771.7L1149.8,762"/>
<path class="ast" stroke-width="1.7" d="M1149.8,762C1149,757 1143,752 1145,748C1146,745 1148,744 1151,742.4M1151,762C1154,752 1160,749 1172.5,750.1M1149.8,777.7C1158,776 1169,772 1172.5,756.1"/>
<path class="ast" stroke-width="2.8" d="M1152.2,805.2L1172.5,800.4L1184.5,799.2"/>
<path class="ast" stroke-width="1.8" d="M1184.5,799.2L1194,787.8M1184.5,800.5C1190,803 1194,808 1195.3,813.6M1165.4,807.6C1171,815 1175,823 1191.7,823.1"/>
<ellipse cx="1133" cy="804" rx="6" ry="4.5" fill="#6b559f"/><circle cx="1133" cy="804" r="1" fill="#3c2e70"/>
<circle cx="1146.2" cy="802.8" r="5.8" fill="#4a4a80"/>
<!-- vessel end -->
<ellipse cx="1143.8" cy="867.4" rx="9.5" ry="14" fill="#c06048"/><ellipse cx="1142.6" cy="866.8" rx="7" ry="10.5" fill="#912a16"/>
<circle cx="1026.3" cy="798.6" r="5.8" fill="#3f3f72"/>
<path d="M1038.5,786.6V796.8L1043,794L1046.9,794.5Z" fill="none" stroke="#bbb" stroke-width=".6"/>
<!-- pericyte -->
<polygon points="1073.8,841 1084,847 1096,861.4 1104.3,875.8 1093.6,872.2 1079.2,866.2 1076.8,856.6" fill="#2b8a80"/>
<path d="M1080,841l5,8M1084,845l-2,6M1090,850l-3,6M1094,855l-3,7M1098,861l-4,6M1101,866l-3,6" stroke="#4f8a6a" stroke-width="1.3"/>
<circle cx="1084.6" cy="861.4" r="3" fill="#1a6f75"/>
<!-- neuron -->
<path d="M1228,746C1243,744 1262,728 1275,742C1285,755 1288,775 1292,785C1300,805 1310,820 1326,827" fill="none" stroke="#f5d298" stroke-width="5.5" stroke-linecap="round"/>
<path d="M1209,735C1218,745 1228,748 1232,745C1225,752 1224,758 1226,768C1215,762 1205,764 1197,770C1197,760 1195,755 1190,750C1198,748 1205,742 1209,735Z" fill="#f5bd69"/>
<ellipse cx="1208" cy="752" rx="14" ry="13" fill="#f5bd69"/>
<circle cx="1213" cy="754" r="4.7" fill="#3b3a70"/>
<ellipse cx="1179.7" cy="772.9" rx="7" ry="4" fill="#fff" fill-opacity=".8"/>
<path class="neu" style="stroke-width:2" d="M1199,745C1190,735 1185,720 1177,708M1190,733C1182,728 1177,727 1171,726M1208,740C1210,725 1205,712 1200,708M1212,740C1211,725 1215,712 1218,705M1198,755C1185,755 1170,765 1158,765M1182,757C1176,750 1172,745 1165,735M1200,762C1190,770 1185,785 1180,795M1210,765C1208,780 1205,790 1203,800M1205,780C1212,785 1215,790 1218,795M1222,765C1228,775 1228,785 1230,790M1222,768C1232,775 1238,780 1243,780"/>
<path class="neu" d="M1326,827C1340,825 1352,812 1359,800C1358,790 1354,785 1357,777.5M1359,800C1375,800 1388,802 1395.6,803C1405,815 1412,828 1422,831C1427,832 1430,830 1432,828M1326,827C1332,835 1334,843 1334,851C1345,854 1355,855 1363,856C1370,850 1376,840 1385,836M1363,856C1362,870 1362,880 1363,886C1367,895 1372,900 1377,907M1334,851C1334,858 1333,862 1331,866C1318,868 1305,868 1296,881M1331,866C1331,875 1333,880 1335,885"/>
<!-- microglia -->
<path d="M1296,692L1309,700L1306,712L1292,715L1285,705Z" fill="#3f7e34"/><ellipse cx="1296" cy="703" rx="4" ry="3" fill="#235b20"/>
<path class="mic" d="M1290,695C1287,685 1285,675 1284,665C1285,660 1287,656 1290,661M1284,672C1292,672 1295,668 1297,672M1284,668C1278,665 1274,671 1271,671M1286,702C1272,705 1265,695 1256,694C1252,692 1250,695 1255,700M1270,702C1262,712 1255,711 1248,713M1262,712C1265,718 1264,722 1265,725M1292,714C1290,722 1283,722 1277,724M1290,720C1295,721 1298,722 1300,726M1306,712C1308,720 1307,725 1309,732M1310,718C1318,715 1322,710 1330,705M1320,712C1325,705 1328,708 1335,705M1320,712C1318,718 1322,722 1322,725M1304,695C1310,692 1316,690 1323,686M1310,692C1308,688 1307,686 1306,683M1316,690C1319,688 1322,686 1326,687"/>
<!-- circle detail -->
<circle cx="1237.2" cy="928.3" r="57.5" fill="none" stroke="#444" stroke-width="1.6"/>
<path class="ast" stroke-width="6" d="M1201,917C1206,905 1218,897 1238,894M1205,889L1216,899"/>
<path class="ast" stroke-width="6" d="M1246,896C1258,899 1268,908 1272,916M1259,899L1276,892"/>
<path class="ast" stroke-width="6" d="M1274,935C1270,950 1262,960 1244,966M1264,955L1280,966"/>
<ellipse cx="1232" cy="935" rx="33" ry="30" fill="#2e8a86"/>
<ellipse cx="1237.7" cy="930.8" rx="29.5" ry="29" fill="#fdf0e0"/>
<ellipse cx="1237.7" cy="930.8" rx="28" ry="27.5" fill="#e0584c"/>
<ellipse cx="1237.2" cy="934.6" rx="22" ry="21" fill="#d8938a" stroke="#fff" stroke-width="1"/>
<ellipse cx="1239" cy="909" rx="7" ry="3.8" fill="#c8352b"/>
<ellipse cx="1209" cy="952" rx="4" ry="3" fill="#1f6d80"/>
<!-- inset arrows -->
<path d="M1179.5,842L1150,820" class="l2" marker-end="url(#a)"/>
<path d="M1225,851L1261.3,898" class="l2" marker-end="url(#a)"/>
<path d="M1110,905.5L1094,878" class="l2" marker-end="url(#a)"/>
<path d="M1114.7,927L1194.2,948.5" class="l2" marker-end="url(#a)"/>
<path d="M1321.8,949.8L1248,913" class="l2" marker-end="url(#a)"/>
<path d="M1152.6,856L1237,871M1144.5,884L1181,942" fill="none" stroke="#555" stroke-width="1.4" stroke-dasharray="9 9"/>
<circle cx="1020.4" cy="965" r="6" fill="#3f3f72"/>
<text class="ins" x="1043" y="684" style="fill:#c0555a" textLength="152" lengthAdjust="spacingAndGlyphs">Smooth muscle</text>
<text class="ins" x="1043" y="708" style="fill:#c0555a" textLength="44" lengthAdjust="spacingAndGlyphs">cells</text>
<text class="ins" x="1338" y="680" style="fill:#3e5a48" textLength="89" lengthAdjust="spacingAndGlyphs">Microglia</text>
<text class="ins" x="1330" y="748" style="fill:#d49a2e" textLength="100" lengthAdjust="spacingAndGlyphs">Myelinated</text>
<text class="ins" x="1330" y="771" style="fill:#d49a2e" textLength="66" lengthAdjust="spacingAndGlyphs">Neuron</text>
<text class="ins" x="1182" y="849" style="fill:#4a4a80" textLength="87" lengthAdjust="spacingAndGlyphs">Astrocyte</text>
<text class="ins" x="1087" y="922" style="fill:#3a5566" textLength="73" lengthAdjust="spacingAndGlyphs">Pericyte</text>
<text class="ins" x="1035" y="961" style="fill:#3a3a6e" textLength="65" lengthAdjust="spacingAndGlyphs">Mutant</text>
<text class="ins" x="1035" y="984" style="fill:#3a3a6e" textLength="91" lengthAdjust="spacingAndGlyphs">huntingtin</text>
<text class="ins" x="1293" y="964" style="fill:#a33a50" textLength="106" lengthAdjust="spacingAndGlyphs">Endothelial</text>
<text class="ins" x="1293" y="988" style="fill:#a33a50" textLength="33" lengthAdjust="spacingAndGlyphs">cell</text>

<!-- amino acid label -->
<text class="t" x="0" y="0" font-size="16.5" transform="translate(274,336) rotate(-90)" textLength="169" lengthAdjust="spacingAndGlyphs">Amino acid metabolism</text>
</svg>
</body>
</html>
